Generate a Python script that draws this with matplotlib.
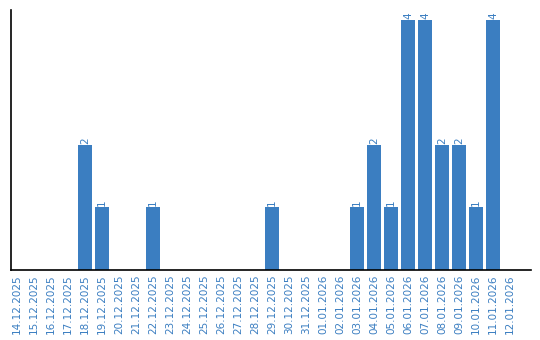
import matplotlib
matplotlib.use("Agg")
import matplotlib.pyplot as plt

# dates and counts
dates = ["14.12.2025", "15.12.2025", "16.12.2025", "17.12.2025", "18.12.2025",
         "19.12.2025", "20.12.2025", "21.12.2025", "22.12.2025", "23.12.2025",
         "24.12.2025", "25.12.2025", "26.12.2025", "27.12.2025", "28.12.2025",
         "29.12.2025", "30.12.2025", "31.12.2025", "01.01.2026", "02.01.2026",
         "03.01.2026", "04.01.2026", "05.01.2026", "06.01.2026", "07.01.2026",
         "08.01.2026", "09.01.2026", "10.01.2026", "11.01.2026", "12.01.2026"]
counts = [0, 0, 0, 0, 2, 1, 0, 0, 1, 0, 0, 0, 0, 0, 0,
          1, 0, 0, 0, 0, 1, 2, 1, 4, 4, 2, 2, 1, 4, 0]

blue = "#3b7ec1"

fig = plt.figure(figsize=(5.4, 3.4), dpi=100)
ax = fig.add_axes([0.0198, 0.206, 0.963, 0.765])

x = range(len(dates))
bars = ax.bar(x, counts, width=0.82, color=blue)

# value labels above non-zero bars
for xi, v in zip(x, counts):
    if v > 0:
        ax.text(xi, v + 0.02, str(v), rotation=90, ha="center", va="bottom",
                fontsize=7.5, color=blue)

ax.set_xlim(-0.37, 30.22)
ax.set_ylim(0, 4.16)
ax.set_xticks(list(x))
ax.set_xticklabels(dates, rotation=90, fontsize=7.5, color=blue)
ax.tick_params(axis="x", length=0, pad=3)
ax.set_yticks([])

for s in ["top", "right"]:
    ax.spines[s].set_visible(False)
ax.spines["left"].set_linewidth(1.2)
ax.spines["bottom"].set_linewidth(1.2)

fig.savefig("out.png", dpi=100)
